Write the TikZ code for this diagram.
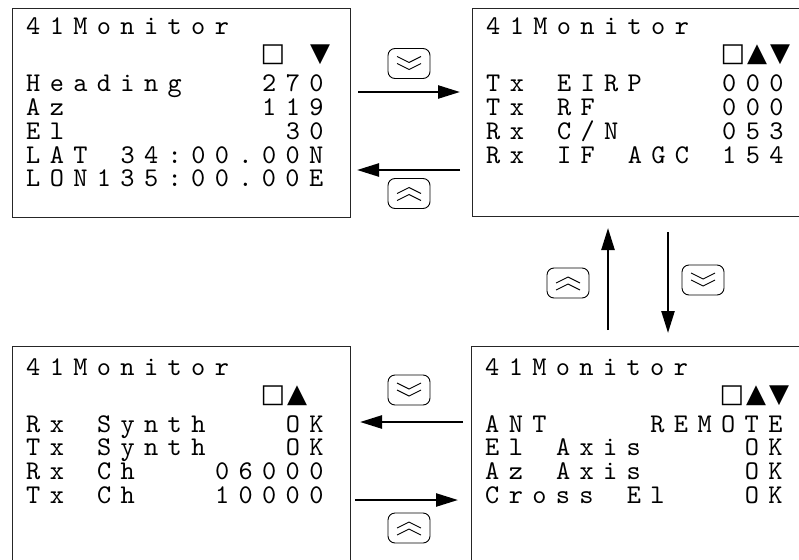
\documentclass[tikz,border=0pt]{standalone}
\usepackage{fontspec}
\usetikzlibrary{arrows.meta}
\newfontfamily\lcdfont{lmmono10-regular.otf}[LetterSpace=34.8]
\newfontfamily\symfont{DejaVu Sans}

\tikzset{
  panel/.style={draw=black!85, line width=1.4pt, anchor=north west, inner sep=0pt,
    minimum width=338pt},
  lcd/.style={anchor=base west, inner sep=0pt, text height=16pt, text depth=4pt,
    font=\lcdfont\fontsize{27pt}{28pt}\selectfont},
  stat/.style={anchor=base, inner sep=0pt, text height=19pt, text depth=0pt,
    font=\symfont\fontsize{26pt}{26pt}\selectfont},
  flow/.style={line width=2.4pt, -{Triangle[length=22pt, width=13pt]}},
  keycap/.style={draw, line width=0.9pt, rounded corners=7pt, minimum width=42pt,
    minimum height=30pt, inner sep=0pt},
  chevron/.style={line width=0.9pt},
  downkey/.pic={
    \node[keycap] (-cap) {};
    \draw[chevron] (-12,-7) -- (0,-1) -- (12,-7);
    \draw[chevron] (-12,0) -- (0,6) -- (12,0);
  },
  upkey/.pic={
    \node[keycap] (-cap) {};
    \draw[chevron] (-12,7) -- (0,1) -- (12,7);
    \draw[chevron] (-12,0) -- (0,-6) -- (12,0);
  }
}

\begin{document}
\begin{tikzpicture}[x=1pt, y=-1pt]
  \useasboundingbox (0,0) rectangle (799,559);
  \clip (0,0) rectangle (799,559);
  \def\tx{14}
  \def\px{23.6}
  \def\lh{23.7}

  % panels
  \node[panel, minimum height=209pt] (p1) at (12,8) {};
  \node[panel, minimum height=208pt, minimum width=350pt] (p2) at (472,8) {};
  \node[panel, minimum height=250pt] (p3) at (12,346) {};
  \node[panel, minimum height=250pt, minimum width=350pt] (p4) at (471,346) {};

  % screen 1
  \begin{scope}[shift={(12,0)}]
    \node[lcd] (t1-0) at (\tx,35) {41Monitor};
    \node[stat] (s1-a) at (261,62) {□};
    \node[stat] (s1-c) at (308,62) {▼};
    \foreach \c/\r/\t [count=\i] in {0/0/Heading, 10/0/270, 0/1/Az, 10/1/119,
        0/2/El, 11/2/30, 0/3/LAT, 4/3/{34:00.00N}, 0/4/{LON135:00.00E}}
      \node[lcd] (t1-\i) at (\tx+\c*\px, 92+\r*\lh) {\t};
  \end{scope}

  % screen 2
  \begin{scope}[shift={(472,0)}]
    \node[lcd] (t2-0) at (\tx,35) {41Monitor};
    \node[stat] (s2-a) at (261,62) {□};
    \node[stat] (s2-b) at (285,62) {▲};
    \node[stat] (s2-c) at (308,62) {▼};
    \foreach \c/\r/\t [count=\i] in {0/0/Tx, 3/0/EIRP, 10/0/000, 0/1/Tx, 3/1/RF, 10/1/000,
        0/2/Rx, 3/2/{C/N}, 10/2/053, 0/3/Rx, 3/3/IF, 6/3/AGC, 10/3/154}
      \node[lcd] (t2-\i) at (\tx+\c*\px, 92+\r*\lh) {\t};
  \end{scope}

  % screen 3
  \begin{scope}[shift={(12,340)}]
    \node[lcd] (t3-0) at (\tx,35) {41Monitor};
    \node[stat] (s3-a) at (261,62) {□};
    \node[stat] (s3-b) at (285,62) {▲};
    \foreach \c/\r/\t [count=\i] in {0/0/Rx, 3/0/Synth, 11/0/OK, 0/1/Tx, 3/1/Synth, 11/1/OK,
        0/2/Rx, 3/2/Ch, 8/2/06000, 0/3/Tx, 3/3/Ch, 8/3/10000}
      \node[lcd] (t3-\i) at (\tx+\c*\px, 92+\r*\lh) {\t};
  \end{scope}

  % screen 4
  \begin{scope}[shift={(471,340)}]
    \node[lcd] (t4-0) at (\tx,35) {41Monitor};
    \node[stat] (s4-a) at (261,62) {□};
    \node[stat] (s4-b) at (285,62) {▲};
    \node[stat] (s4-c) at (308,62) {▼};
    \foreach \c/\r/\t [count=\i] in {0/0/ANT, 7/0/REMOTE, 0/1/El, 3/1/Axis, 11/1/OK,
        0/2/Az, 3/2/Axis, 11/2/OK, 0/3/Cross, 6/3/El, 11/3/OK}
      \node[lcd] (t4-\i) at (\tx+\c*\px, 92+\r*\lh) {\t};
  \end{scope}

  % arrow ends
  \coordinate (r1a) at (358,92);   \coordinate (r1b) at (460,92);
  \coordinate (l1a) at (460,170);  \coordinate (l1b) at (357,170);
  \coordinate (u1a) at (608,330);  \coordinate (u1b) at (608,228);
  \coordinate (d1a) at (668,232);  \coordinate (d1b) at (668,333);
  \coordinate (l2a) at (463,422);  \coordinate (l2b) at (360,422);
  \coordinate (r2a) at (355,500);  \coordinate (r2b) at (458,500);

  \draw[flow] (r1a) -- (r1b);
  \draw[flow] (l1a) -- (l1b);
  \draw[flow] (u1a) -- (u1b);
  \draw[flow] (d1a) -- (d1b);
  \draw[flow] (l2a) -- (l2b);
  \draw[flow] (r2a) -- (r2b);

  % keys
  \pic (k1) at (409,63.5) {downkey};
  \pic (k2) at (409,193.5) {upkey};
  \pic (k3) at (568,283) {upkey};
  \pic (k4) at (703,280) {downkey};
  \pic (k5) at (409,390) {downkey};
  \pic (k6) at (409,528) {upkey};
\end{tikzpicture}
\end{document}
